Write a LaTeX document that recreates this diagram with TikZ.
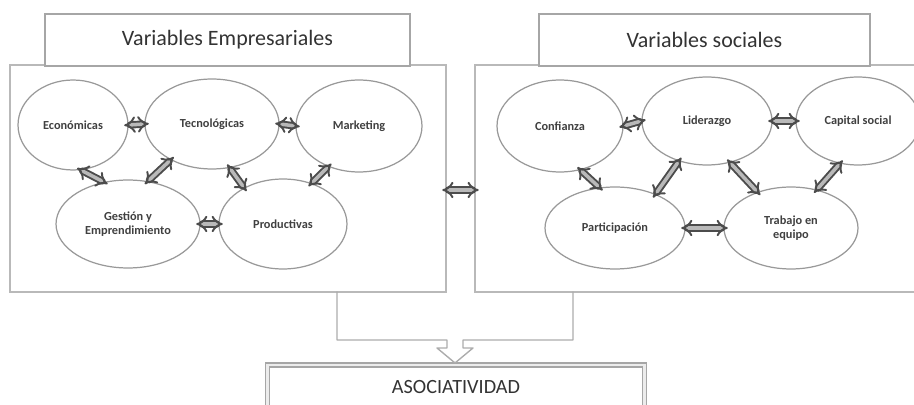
\documentclass[tikz,border=0pt]{standalone}
\usepackage{fontspec}
\setmainfont{Carlito}
\usetikzlibrary{
    arrows.meta,     % Implies tips for the block arrows.
    shapes.geometric % Ellipses for the variables.
}

\begin{document}
\begin{tikzpicture}[%
        x = 0.02cm,
        y = -0.02cm,
        line cap = round,
        frame/.style = {draw = gray!55, line width = 0.8pt, inner sep = 0pt},
        titlebox/.style = {draw = gray!70, fill = white, line width = 0.9pt,
            inner sep = 0pt, minimum height = 1.04cm,
            font = \fontsize{12.5}{14}\selectfont, text = black!80},
        factor/.style = {ellipse, draw = gray!80, fill = white,
            line width = 0.7pt, inner sep = 0pt, align = center,
            font = \fontsize{7}{8}\selectfont\bfseries, text = black!75},
        link/.style = {draw = gray!60!black, double = gray!55,
            double distance = 2pt, line width = 1.1pt,
            shorten <= -2.5pt, shorten >= -2.5pt,
            {Implies}-{Implies}}
    ]

        % Fix the size of the page.
        \useasboundingbox (0, 0) rectangle (914, 405);

        % The two large frames.
        \node[frame, minimum width = 8.72cm, minimum height = 4.54cm]
            (empresa) at (228, 178.5) {};
        \node[frame, minimum width = 8.9cm, minimum height = 4.54cm]
            (social) at (697.5, 178.5) {};

        % Titles on top of the frames.
        \node[titlebox, minimum width = 7.3cm] (tempresa) at (227.5, 40)
            {Variables Empresariales};
        \node[titlebox, minimum width = 6.62cm] (tsocial) at (704.5, 40)
            {Variables sociales};

        % Business variables.
        \node[factor, minimum width = 2.2cm, minimum height = 1.8cm]
            (eco) at (73, 125) {Económicas};
        \node[factor, minimum width = 2.68cm, minimum height = 1.8cm]
            (tec) at (212, 124) {Tecnológicas};
        \node[factor, minimum width = 2.52cm, minimum height = 1.84cm]
            (mkt) at (359, 126) {Marketing};
        \node[factor, minimum width = 2.88cm, minimum height = 1.76cm]
            (ges) at (128, 224) {Gestión y\\Emprendimiento};
        \node[factor, minimum width = 2.56cm, minimum height = 1.8cm]
            (pro) at (283, 224) {Productivas};

        % Social variables.
        \node[factor, minimum width = 2.52cm, minimum height = 1.84cm]
            (con) at (560, 126) {Confianza};
        \node[factor, minimum width = 2.6cm, minimum height = 1.76cm]
            (lid) at (707, 121) {Liderazgo};
        \node[factor, minimum width = 2.48cm, minimum height = 1.76cm]
            (cap) at (858, 121) {Capital social};
        \node[factor, minimum width = 2.8cm, minimum height = 1.64cm]
            (par) at (615, 228) {Participación};
        \node[factor, minimum width = 2.68cm, minimum height = 1.64cm]
            (tra) at (791, 228) {Trabajo en\\equipo};

        % Links between the business variables.
        \draw[link] (eco.east) to (tec.west);
        \draw[link] (tec.east) to (mkt.west);
        \draw[link] (ges.east) to (pro.west);
        \draw[link] (eco.-80) to (ges.120);
        \draw[link] (ges.65) to (tec.-139);
        \draw[link] (tec.-68) to (pro.137);
        \draw[link] (mkt.-127) to (pro.55);

        % Links between the social variables.
        \draw[link] (con.east) to (lid.west);
        \draw[link] (lid.east) to (cap.west);
        \draw[link] (par.east) to (tra.west);
        \draw[link] (con.-65) to (par.111);
        \draw[link] (par.40) to (lid.-125);
        \draw[link] (lid.-61) to (tra.133);
        \draw[link] (tra.56) to (cap.-113);

        % Link between the two frames.
        \draw[link] ([yshift = -0.23cm]empresa.east)
            to ([yshift = -0.23cm]social.west);

        % The result box.
        \node[draw = gray!70, double = gray!15, double distance = 1.5pt,
              line width = 0.7pt, inner sep = 0pt,
              minimum width = 7.54cm, minimum height = 0.9cm,
              font = \fontsize{11.5}{13}\selectfont, text = black!80]
            (asoc) at (456, 387.5) {ASOCIATIVIDAD};

        % Box with the arrow down to the result.
        \coordinate (tip) at (455, 363);
        \draw[draw = gray!65, line width = 0.8pt, line join = round]
            (337, 292) -- (337, 340) -- (447, 340) -- (447, 348)
            -- (437, 348) -- (tip) -- (473, 348) -- (463, 348)
            -- (463, 340) -- (573, 340) -- (573, 292);
    \end{tikzpicture}
\end{document}
